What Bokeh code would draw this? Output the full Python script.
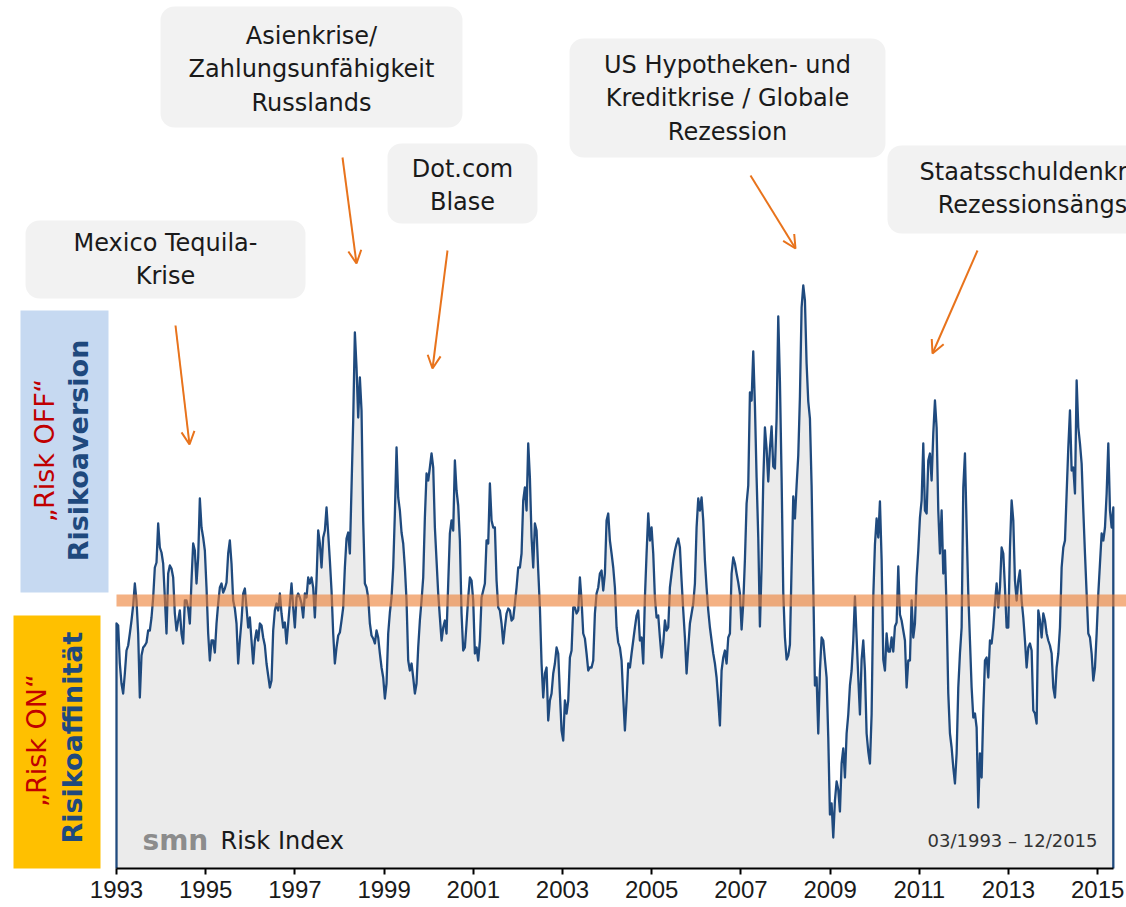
import math
import numpy as np
from bokeh.plotting import figure
from bokeh.models import (Range1d, FixedTicker, BoxAnnotation, Label, Arrow,
                          OpenHead, ColumnDataSource)
from bokeh.embed import file_html
from bokeh.resources import INLINE

# ---------------- data ----------------
tick_years = [1993, 1995, 1997, 1999, 2001, 2003, 2005, 2007, 2009, 2011, 2013, 2015]
period_start, period_end = 1993.0, 2015.35   # position of first / last observation on the year axis
threshold = 0.0                              # Risk ON / Risk OFF boundary

risk_1993_1996 = [
    -2.3, -2.5, -6.3, -8.3, -9.3, -7.3, -5.0, -4.5, -3.3, -2.0, -0.5, 1.7, 0.0, -3.3, -9.7, -5.5,
    -4.7, -4.5, -4.2, -3.0, -3.0, -1.7, 0.3, 3.3, 3.8, 7.7, 5.3, 4.8, 3.7, 0.3, -3.3, 2.7,
    3.5, 3.2, 2.3, -1.3, -3.0, -2.0, -1.0, -3.3, -4.3, 0.0, 0.0, -0.8, -2.3, 2.0, 5.7, 5.0,
    1.7, 4.3, 10.2, 7.3, 6.3, 5.0, 1.3, -3.3, -6.0, -4.0, -4.0, -5.2, -2.3, -0.3, 1.3, 1.7,
    0.8, 1.2, 1.8, 4.7, 6.0, 3.7, 0.0, -0.8, -2.3, -6.3, -4.0, -2.0, 0.7, 1.2, -0.7, -2.7,
    -1.7, -4.0, -6.3, -4.0, -3.0, -4.0, -2.3, -2.5, -3.7, -4.5, -6.3, -7.5, -8.7, -8.0, -3.0, -1.0,
    -0.3, -1.0,
]
risk_1996_2000 = [
    0.7, -1.3, -2.7, -2.2, -4.3, -2.3, -0.3, 1.7, -0.7, -2.7, 0.3, 0.7, 0.3, -0.3, -1.7, 0.7,
    0.3, 2.3, 1.7, 2.3, 1.3, -1.7, 2.0, 7.0, 5.7, 3.3, 6.3, 7.0, 9.3, 6.7, 4.0, 1.0,
    -3.3, -6.3, -4.7, -3.5, -3.2, -2.0, -0.7, 3.3, 6.2, 6.8, 4.7, 11.3, 18.0, 26.8, 23.3, 18.3,
    22.3, 19.0, 8.0, 1.7, 1.3, 0.3, -2.3, -3.5, -3.8, -4.3, -3.0, -3.7, -5.3, -6.7, -7.7, -9.8,
    -8.3, -3.3, -1.2, 0.3, 3.3, 8.7, 15.3, 10.3, 9.0, 6.8, 5.7, 3.3, 0.0, -6.0, -7.0, -6.3,
    -7.7, -9.3, -8.3, -4.7, -2.0, 0.0, 2.3, 8.3, 12.7, 12.0, 13.3, 14.7, 13.3, 7.3, 4.0, 0.7,
    -1.7, -4.0, -2.7, -2.0, -3.3, 1.7, 6.7,
]
risk_2000_2004 = [
    8.0, 7.0, 14.0, 11.0, 9.5, 6.0, -1.3, -5.0, -4.7, -2.3, 0.3, 2.3, 2.0, 0.0, -5.3, -4.7,
    -6.0, -4.0, 0.3, 1.0, 1.7, 6.0, 5.7, 11.7, 8.0, 7.3, 7.3, 2.0, -0.7, -1.0, -2.3, -4.3,
    -2.7, -1.3, -0.8, -1.0, -2.0, -1.8, -0.3, 1.3, 3.3, 3.3, 4.7, 10.0, 11.3, 9.0, 15.7, 12.3,
    6.3, 3.3, 7.7, 7.0, 3.0, -0.7, -6.3, -9.7, -7.3, -6.7, -12.0, -10.0, -9.3, -7.3, -6.3, -4.7,
    -5.3, -9.3, -13.0, -14.0, -10.0, -11.3, -10.0, -5.7, -5.0, -0.7, -0.7, -1.3, -1.0, 2.3, 0.0, -3.3,
    -3.8, -5.3, -7.0, -6.7, -6.7, -6.0, -1.3, 0.7, 1.3, 2.7, 3.0, 1.0, 2.7, 8.0, 8.7, 6.0,
    4.7, 3.3, 1.3, -2.7, -4.2, -4.7,
]
risk_2004_2006 = [
    -6.0, -9.7, -13.0, -10.0, -6.3, -6.7, -5.3, -4.0, -2.7, -1.5, -1.0, -4.0, -3.7, -6.3, 0.3, 4.7,
    8.7, 6.0, 7.3, 4.7, 0.3, -1.7, -1.5, -3.7, -5.7, -4.3, -2.0, -3.0, -2.7, 1.3, 2.7, 4.0,
    5.0, 5.7, 6.2, 5.3, 2.0, -1.0, -3.7, -7.3, -4.7, -2.3, -1.3, -0.3, 1.7, 7.3, 10.2, 9.0,
    10.3, 8.0, 4.0, 1.3, -1.0, -2.7, -4.0, -5.3, -6.3, -7.7, -10.0, -12.5, -7.0, -5.7, -5.0, -6.3,
    -3.7, -3.3, 2.7, 4.3, 3.7, 2.7, 1.8, 0.7,
]
risk_2007_2010 = [
    -2.9, -0.3, 4.1, 9.7, 11.5, 20.8, 20.0, 24.9, 19.5, 12.3, 6.3, -2.6, 3.4, 11.9, 17.3, 15.2,
    11.9, 15.2, 17.4, 13.4, 13.2, 18.2, 28.4, 21.9, 12.3, 0.8, -3.7, -5.9, -5.5, -4.4, 3.4, 10.4,
    8.2, 11.5, 14.5, 20.4, 29.3, 31.5, 30.0, 23.7, 19.9, 18.2, 11.5, 1.5, -8.5, -7.7, -13.3, -7.0,
    -3.7, -4.0, -5.9, -7.7, -13.7, -21.4, -20.3, -23.7, -20.0, -18.1, -18.9, -21.1, -16.3, -14.8, -17.7, -13.3,
    -11.4, -8.5, -7.0, -4.0, 0.4, -3.7, -7.7, -11.4, -5.9, -4.0, -7.0, -13.3, -15.1, -16.3, -11.4, 0.4,
    5.6, 8.2, 6.3, 9.9, 4.1, -5.9, -7.0, -3.3, -5.1, -5.1, -3.7, -5.1, -2.6, -2.2, 3.4, -1.4,
]
risk_2010_2015 = [
    -2.0, -3.0, -4.0, -8.7, -6.0, -6.0, 0.0, -3.7, -2.3, 2.3, 5.0, 8.3, 10.0, 15.7, 9.0, 8.7,
    14.0, 14.7, 12.0, 16.7, 20.0, 17.3, 9.0, 4.7, 9.0, 2.7, 5.0, -1.0, -9.3, -13.3, -14.7, -16.7,
    -18.3, -15.3, -8.7, -5.3, -2.7, 11.3, 14.7, 7.3, 0.7, -4.0, -8.7, -11.7, -11.3, -12.7, -20.7, -15.3,
    -17.7, -11.0, -6.0, -5.7, -7.7, -4.0, -4.3, -2.7, -0.3, 1.7, -0.7, 1.3, 5.3, 4.7, 1.3, -2.7,
    -2.7, 5.3, 10.0, 8.0, 2.0, 0.0, 2.0, 3.0, 0.0, -1.7, -4.0, -6.7, -4.7, -4.3, -5.0, -11.0,
    -11.3, -12.3, -1.0, -2.0, -3.7, -1.3, -2.0, -3.3, -4.0, -4.5, -5.3, -8.7, -9.7, -6.7, -5.3, -2.7,
    3.3, 5.3, 6.0, 10.7, 15.3, 19.0, 13.0, 13.3, 10.7, 22.0, 17.3, 15.7, 13.7, 9.0, 4.7, 0.7,
    -3.3, -3.7, -5.3, -8.0, -6.7, -3.3, 0.7, 3.7, 6.7, 6.0, 7.3, 10.7, 15.7, 9.0, 7.3, 9.3,
]

annotation_texts = [
    "Mexico Tequila-\nKrise",
    "Asienkrise/\nZahlungsunfähigkeit\nRusslands",
    "Dot.com\nBlase",
    "US Hypotheken- und\nKreditkrise / Globale\nRezession",
    "Staatsschuldenkrise/\nRezessionsängste",
]

risk_values = (risk_1993_1996 + risk_1996_2000 + risk_2000_2004 +
               risk_2004_2006 + risk_2007_2010 + risk_2010_2015)
dates = np.linspace(period_start, period_end, len(risk_values))

# ---------------- layout helpers (page pixels -> data units) ----------------
W, H = 1126, 907
PX_PER_YEAR = 44.6
PX_PER_UNIT = 10.0
X0_PX, Y0_PX = 116, 600
FRAME_TOP, FRAME_BOTTOM = 0, 868


def X(px):
    return 1993 + (px - X0_PX) / PX_PER_YEAR


def Y(py):
    return threshold + (Y0_PX - py) / PX_PER_UNIT


y_lo, y_hi = Y(FRAME_BOTTOM), Y(FRAME_TOP)
floor = y_lo - 5

p = figure(width=W, height=H, output_backend="svg", toolbar_location=None,
           x_range=Range1d(X(0), X(W)), y_range=Range1d(y_lo, y_hi),
           y_axis_location=None, min_border_left=0, min_border_right=0,
           min_border_top=0, min_border_bottom=H - FRAME_BOTTOM)
p.outline_line_color = None
p.grid.grid_line_color = None
p.background_fill_color = "white"
p.border_fill_color = "white"

# ---------------- series ----------------
src = ColumnDataSource(dict(x=dates, y=risk_values, base=[floor] * len(risk_values)))
p.varea(x="x", y1="base", y2="y", source=src, fill_color="#ebebeb")
line_x = [dates[0]] + list(dates) + [dates[-1]]
line_y = [floor] + list(risk_values) + [floor]
p.line(line_x, line_y, line_color="#1f4a7e", line_width=2.3, line_join="round")

# threshold band
p.add_layout(BoxAnnotation(left=dates[0], bottom=threshold - 0.6, top=threshold + 0.6,
                           fill_color="#ed7d31", fill_alpha=0.6, line_color=None))

# ---------------- x axis ----------------
ax = p.xaxis[0]
ax.ticker = FixedTicker(ticks=tick_years)
ax.bounds = (X(116), X(1113))
ax.axis_line_color = "black"
ax.axis_line_width = 2
ax.major_tick_line_color = "black"
ax.major_tick_line_width = 2
ax.major_tick_out = 6
ax.major_tick_in = 0
ax.minor_tick_out = 0
ax.minor_tick_in = 0
ax.major_label_standoff = 6
ax.major_label_text_font = "Liberation Sans"
ax.major_label_text_font_size = "24px"
ax.major_label_text_color = "#1a1a1a"

# ---------------- crisis annotation boxes ----------------
box_geom = [  # left, right, top, bottom, text centre x, text centre y (page px)
    (25, 305, 220, 298, 165, 259),
    (160, 462, 6, 127, 311, 69),
    (387, 537, 143, 223, 462, 185),
    (569, 885, 38, 157, 727, 98),
    (887, 1230, 145, 233, 1044, 188),
]
for (l, r, t, b, cx, cy), txt in zip(box_geom, annotation_texts):
    p.add_layout(BoxAnnotation(left=X(l), right=X(r), top=Y(t), bottom=Y(b),
                               fill_color="#f2f2f2", fill_alpha=1.0, line_color=None,
                               border_radius=14))
    p.add_layout(Label(x=X(cx), y=Y(cy), text=txt, text_align="center",
                       text_baseline="middle", text_font="DejaVu Sans",
                       text_font_size="24px", text_color="#1a1a1a",
                       text_line_height=1.2))

arrow_geom = [
    (175, 325, 189, 444),
    (342, 157, 356, 263),
    (447, 250, 432, 368),
    (750, 175, 795, 248),
    (977, 250, 932, 353),
]
orange = "#e8731c"
for x0, y0, x1, y1 in arrow_geom:
    p.add_layout(Arrow(x_start=X(x0), y_start=Y(y0), x_end=X(x1), y_end=Y(y1),
                       line_color=orange, line_width=2,
                       end=OpenHead(size=13, line_color=orange, line_width=2)))

# ---------------- Risk OFF / Risk ON side panels ----------------
p.add_layout(BoxAnnotation(left=X(20), right=X(108), top=Y(310), bottom=Y(592),
                           fill_color="#c6d9f1", fill_alpha=1.0, line_color=None))
p.add_layout(BoxAnnotation(left=X(13), right=X(100), top=Y(615), bottom=Y(875),
                           fill_color="#ffc000", fill_alpha=1.0, line_color=None))
side_labels = [
    ("\u201eRisk OFF\u201c", 44, 450, "#c00000", "normal"),
    ("Risikoaversion", 78, 450, "#1f497d", "bold"),
    ("\u201eRisk ON\u201c", 36, 740, "#c00000", "normal"),
    ("Risikoaffinität", 72, 737, "#1f497d", "bold"),
]
for txt, cx, cy, col, style in side_labels:
    p.add_layout(Label(x=X(cx), y=Y(cy), text=txt, angle=math.pi / 2,
                       text_align="center", text_baseline="middle",
                       text_font="DejaVu Sans", text_font_size="27px",
                       text_font_style=style, text_color=col))

# ---------------- footer texts ----------------
p.add_layout(Label(x=X(142), y=Y(840), text="smn", text_align="left",
                   text_baseline="middle", text_font="DejaVu Sans",
                   text_font_size="28px", text_font_style="bold", text_color="#8c8c8c"))
p.add_layout(Label(x=X(220), y=Y(840), text="Risk Index", text_align="left",
                   text_baseline="middle", text_font="DejaVu Sans",
                   text_font_size="24px", text_color="#1a1a1a"))
p.add_layout(Label(x=X(1097), y=Y(840), text="03/1993 \u2013 12/2015", text_align="right",
                   text_baseline="middle", text_font="DejaVu Sans",
                   text_font_size="18px", text_color="#333333"))

open("out.html", "w").write(file_html(p, INLINE))
